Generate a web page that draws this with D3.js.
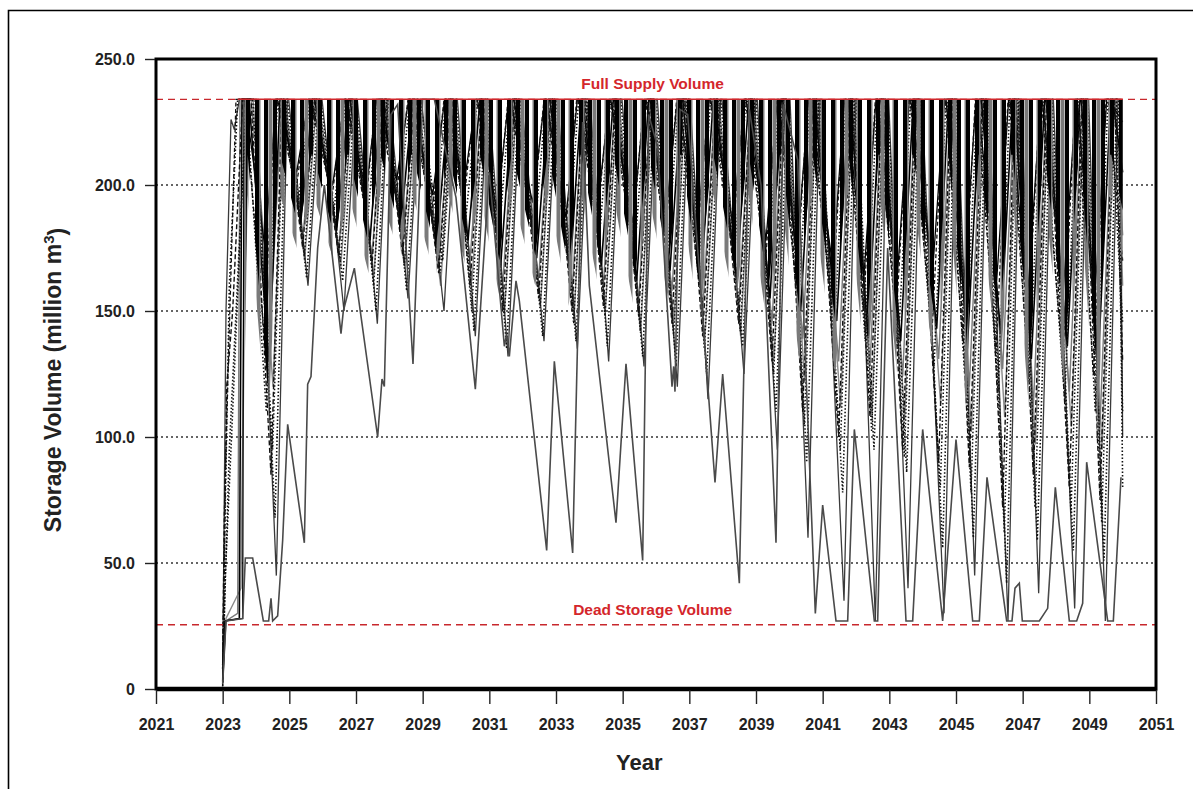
<!DOCTYPE html>
<html>
<head>
<meta charset="utf-8">
<script src="https://cdn.jsdelivr.net/npm/d3@7"></script>
<style>
  body { margin: 0; background: #fff; }
  text { font-family: "Liberation Sans", Arial, sans-serif; }
</style>
</head>
<body>
<div id="chart"></div>
<script>
// reference levels (million m3)
const FSV = 234;
const DSV = 25.5;

// axis ticks
const xTicks = [2021, 2023, 2025, 2027, 2029, 2031, 2033, 2035, 2037, 2039, 2041, 2043, 2045, 2047, 2049, 2051];
const yTicks = [0, 50, 100, 150, 200, 250];
const yTickLabels = ["0", "50.0", "100.0", "150.0", "200.0", "250.0"];
const gridValues = [50, 100, 150, 200];

// yearly drawdown cycles shared by the scenario traces (decimal years)
const cycleStart  = [2023.75, 2024.72, 2025.72, 2026.78, 2027.74, 2028.70, 2029.78, 2030.72, 2031.70, 2032.78, 2033.76, 2034.72, 2035.78, 2036.76, 2037.72, 2038.78, 2039.76, 2040.70, 2041.78, 2042.72, 2043.72, 2044.78, 2045.72, 2046.70, 2047.66, 2048.72];
const cycleTrough = [2024.35, 2025.30, 2026.38, 2027.38, 2028.30, 2029.38, 2030.32, 2031.30, 2032.38, 2033.38, 2034.32, 2035.38, 2036.38, 2037.30, 2038.38, 2039.38, 2040.30, 2041.38, 2042.32, 2043.30, 2044.38, 2045.30, 2046.30, 2047.22, 2048.30, 2049.22];
const cycleRefill = [2024.68, 2025.66, 2026.74, 2027.70, 2028.66, 2029.74, 2030.68, 2031.66, 2032.74, 2033.72, 2034.68, 2035.74, 2036.72, 2037.68, 2038.74, 2039.72, 2040.66, 2041.74, 2042.68, 2043.68, 2044.74, 2045.68, 2046.66, 2047.62, 2048.68, 2049.60];
const finalStart = 2049.66;
const dataEnd = 2050.0;

// dense bars of the wetter scenarios, hanging from full supply:
// lowest point of the black bars and of the grey bars in each year
const blackBarLow = [120, 182, 178, 176, 182, 174, 178, 170, 172, 166, 170, 164, 168, 160, 165, 158, 150, 146, 142, 138, 144, 136, 142, 132, 138, 128];
const greyBarLow  = [100, 172, 168, 165, 172, 163, 166, 156, 160, 152, 156, 148, 154, 144, 150, 140, 130, 124, 120, 116, 124, 112, 120, 106, 114, 100];
const barShoulder = [212, 196];
const barStart = 2023.55;
const barEnd = [190, 170];

// scenario traces: first filling, yearly minimum storage, shift of the cycle, last value
const b1Initial = [[2023.0, 3], [2023.08, 27], [2023.50, 28], [2023.58, 234]];
const b1Troughs = [130, 185, 182, 178, 183, 175, 178, 168, 171, 165, 168, 162, 166, 160, 163, 155, 150, 146, 140, 138, 143, 135, 141, 131, 136, 128];
const b1Lag = 0.04, b1End = 205;

const b2Initial = [[2023.0, 5], [2023.10, 27], [2023.45, 30], [2023.52, 234]];
const b2Troughs = [150, 178, 174, 171, 176, 168, 170, 160, 163, 157, 160, 154, 158, 150, 152, 145, 139, 130, 128, 124, 131, 120, 127, 112, 118, 105];
const b2Lag = 0.10, b2End = 180;

const b3Initial = [[2023.0, 10], [2023.06, 27], [2023.60, 28], [2023.64, 234]];
const b3Troughs = [175, 205, 200, 197, 202, 196, 200, 190, 193, 187, 190, 185, 188, 181, 185, 178, 172, 168, 164, 160, 166, 158, 162, 154, 158, 150];
const b3Lag = -0.08, b3End = 225;

const b4Initial = [[2023.0, 2], [2023.10, 28], [2023.55, 40], [2023.70, 234]];
const b4Troughs = [120, 170, 167, 164, 168, 160, 162, 150, 153, 147, 150, 142, 146, 137, 140, 130, 122, 112, 110, 107, 113, 102, 108, 97, 104, 95];
const b4Lag = 0.16, b4End = 160;

const d1Initial = [[2023.0, 0], [2023.05, 30], [2023.20, 95], [2023.55, 190], [2023.75, 234]];
const d1Troughs = [68, 163, 162, 150, 158, 170, 142, 135, 140, 138, 136, 132, 128, 125, 136, 110, 90, 78, 95, 86, 56, 60, 42, 59, 55, 51];
const d1Lag = 0.22, d1End = 80;

const d2Initial = [[2023.0, 4], [2023.04, 40], [2023.12, 120], [2023.30, 150], [2023.60, 234]];
const d2Troughs = [85, 175, 172, 168, 172, 165, 160, 150, 155, 150, 152, 148, 145, 140, 145, 130, 110, 100, 108, 95, 90, 88, 72, 85, 80, 75];
const d2Lag = 0.10, d2End = 130;

const d3Initial = [[2023.0, 8], [2023.06, 60], [2023.20, 160], [2023.45, 234]];
const d3Troughs = [110, 192, 190, 185, 190, 182, 185, 175, 178, 172, 176, 170, 172, 165, 170, 160, 150, 140, 138, 135, 128, 125, 118, 122, 115, 110];
const d3Lag = -0.04, d3End = 145;

const d4Initial = [[2023.0, 1], [2023.08, 45], [2023.30, 110], [2023.70, 234]];
const d4Troughs = [95, 172, 170, 160, 168, 165, 150, 148, 152, 145, 148, 142, 140, 135, 142, 125, 105, 95, 102, 92, 80, 78, 62, 72, 70, 66];
const d4Lag = 0.15, d4End = 110;

const d5Initial = [[2023.0, 12], [2023.05, 70], [2023.15, 120], [2023.40, 234]];
const d5Troughs = [140, 198, 195, 190, 195, 188, 192, 182, 185, 180, 183, 178, 180, 172, 176, 168, 160, 152, 150, 146, 142, 138, 134, 136, 130, 125];
const d5Lag = -0.10, d5End = 170;

const s2Initial = [[2023.0, 6], [2023.10, 150], [2023.25, 226], [2023.35, 222], [2023.50, 234]];
const s2Troughs = [45, 160, 150, 145, 155, 150, 140, 132, 138, 135, 130, 128, 120, 115, 125, 95, 60, 35, 27, 40, 30, 45, 27, 38, 32, 27];
const s2Lag = 0.26, s2End = 100;

// driest scenario, read point by point
const lowestTrace = [
  [2023.00, 2], [2023.10, 27], [2023.60, 28], [2023.68, 52], [2023.90, 52], [2024.22, 27], [2024.38, 27],
  [2024.45, 36], [2024.50, 27], [2024.65, 29], [2024.80, 59], [2024.95, 105], [2025.45, 58], [2025.55, 121],
  [2025.65, 124], [2025.85, 175], [2026.05, 200], [2026.55, 141], [2026.62, 150], [2026.95, 167], [2027.65, 100],
  [2027.78, 123], [2027.85, 120], [2028.05, 228], [2028.25, 232], [2028.71, 129], [2029.00, 234], [2029.35, 234],
  [2030.00, 195], [2030.58, 119], [2030.85, 175], [2031.00, 205], [2031.45, 136], [2031.52, 141], [2031.60, 132],
  [2031.80, 162], [2031.90, 154], [2032.72, 55], [2032.95, 130], [2033.50, 54], [2033.80, 225], [2034.00, 160],
  [2034.80, 66], [2035.10, 129], [2035.60, 51], [2035.78, 228], [2036.05, 215], [2036.48, 120], [2036.53, 128],
  [2036.57, 118], [2036.72, 230], [2036.95, 228], [2037.77, 82], [2038.00, 125], [2038.50, 42], [2038.80, 230],
  [2039.15, 200], [2039.60, 58], [2039.82, 232], [2040.25, 210], [2040.78, 30], [2041.00, 73], [2041.40, 27],
  [2041.75, 27], [2041.95, 103], [2042.55, 27], [2042.65, 27], [2042.95, 175], [2043.50, 27], [2043.70, 27],
  [2044.00, 103], [2044.60, 27], [2045.00, 99], [2045.50, 27], [2045.70, 27], [2045.93, 84], [2046.52, 27],
  [2046.68, 27], [2046.77, 40], [2046.90, 42], [2046.99, 27], [2047.50, 27], [2047.75, 32], [2047.98, 80],
  [2048.40, 27], [2048.62, 27], [2048.80, 34], [2048.92, 90], [2049.55, 27], [2049.72, 27], [2049.95, 84]
];

const scenarios = {
  b1: { initial: b1Initial, troughs: b1Troughs, lag: b1Lag, end: b1End },
  b2: { initial: b2Initial, troughs: b2Troughs, lag: b2Lag, end: b2End },
  b3: { initial: b3Initial, troughs: b3Troughs, lag: b3Lag, end: b3End },
  b4: { initial: b4Initial, troughs: b4Troughs, lag: b4Lag, end: b4End },
  d1: { initial: d1Initial, troughs: d1Troughs, lag: d1Lag, end: d1End },
  d2: { initial: d2Initial, troughs: d2Troughs, lag: d2Lag, end: d2End },
  d3: { initial: d3Initial, troughs: d3Troughs, lag: d3Lag, end: d3End },
  d4: { initial: d4Initial, troughs: d4Troughs, lag: d4Lag, end: d4End },
  d5: { initial: d5Initial, troughs: d5Troughs, lag: d5Lag, end: d5End },
  s2: { initial: s2Initial, troughs: s2Troughs, lag: s2Lag, end: s2End }
};

// drawing order and line styles
const traceStyles = [
  { key: "b4", color: "#8a8a8a", width: 1.4 },
  { key: "b2", color: "#7a7a7a", width: 1.4 },
  { key: "s2", color: "#3a3a3a", width: 1.3 },
  { key: "b3", color: "#000", width: 1.3 },
  { key: "b1", color: "#000", width: 1.6 },
  { key: "d1", color: "#111", width: 1.6, dash: "1.5,2" },
  { key: "d4", color: "#111", width: 1.5, dash: "1.5,2" },
  { key: "d2", color: "#111", width: 1.4, dash: "5,2.5" },
  { key: "d5", color: "#111", width: 1.3, dash: "4,2.5" },
  { key: "d3", color: "#111", width: 1.6, dash: "1.5,2" }
];

function tracePoints(s) {
  const pts = s.initial.slice();
  s.troughs.forEach((v, i) => {
    pts.push([cycleStart[i] + s.lag, FSV]);
    pts.push([cycleTrough[i] + s.lag, v]);
    pts.push([cycleRefill[i] + s.lag, FSV]);
  });
  pts.push([finalStart + s.lag, FSV]);
  pts.push([dataEnd, s.end]);
  return pts;
}

function barPoints(lows, shoulder, end) {
  const pts = [[barStart, 40], [2023.75, shoulder]];
  lows.forEach((v, i) => {
    if (i > 0) pts.push([cycleStart[i], shoulder]);
    pts.push([cycleTrough[i], v]);
    pts.push([cycleRefill[i], shoulder]);
  });
  pts.push([finalStart, shoulder]);
  pts.push([dataEnd, end]);
  return pts;
}

const W = 1193, H = 789;
const margin = { top: 59, right: 37, bottom: 100, left: 156 };
const width = W - margin.left - margin.right;
const height = H - margin.top - margin.bottom;

const svg = d3.select("#chart").append("svg")
  .attr("width", W)
  .attr("height", H)
  .style("display", "block");

svg.append("rect").attr("width", W).attr("height", H).attr("fill", "#fff");

// vertical bar textures (black and grey scenario lines packed together)
const defs = svg.append("defs");
const patBlack = defs.append("pattern")
  .attr("id", "bars-black")
  .attr("patternUnits", "userSpaceOnUse")
  .attr("width", 9).attr("height", 10);
patBlack.append("rect").attr("x", 0).attr("width", 4).attr("height", 10).attr("fill", "#000");
const patGrey = defs.append("pattern")
  .attr("id", "bars-grey")
  .attr("patternUnits", "userSpaceOnUse")
  .attr("width", 12).attr("height", 10);
patGrey.append("rect").attr("x", 4.5).attr("width", 4).attr("height", 10).attr("fill", "#7a7a7a");

// outer figure frame (top and left edges only are visible)
svg.append("path")
  .attr("d", `M8.5,${H + 5}V10.5H${W + 5}`)
  .attr("fill", "none")
  .attr("stroke", "#000")
  .attr("stroke-width", 1.6);

const g = svg.append("g").attr("transform", `translate(${margin.left},${margin.top})`);

const x = d3.scaleLinear().domain([2021, 2051]).range([0, width]);
const y = d3.scaleLinear().domain([0, 250]).range([height, 0]);

g.append("clipPath").attr("id", "plot-clip")
  .append("rect").attr("width", width).attr("height", height);

// dotted gridlines
g.selectAll(".grid").data(gridValues).join("line")
  .attr("class", "grid")
  .attr("x1", 0).attr("x2", width)
  .attr("y1", d => y(d)).attr("y2", d => y(d))
  .attr("stroke", "#333")
  .attr("stroke-width", 1.3)
  .attr("stroke-dasharray", "2,3");

const line = d3.line().x(d => x(d[0])).y(d => y(d[1]));
const barArea = d3.area().x(d => x(d[0])).y0(d => y(d[1])).y1(y(FSV));
const plot = g.append("g").attr("clip-path", "url(#plot-clip)");

traceStyles.forEach(st => {
  plot.append("path")
    .datum(tracePoints(scenarios[st.key]))
    .attr("d", line)
    .attr("fill", "none")
    .attr("stroke", st.color)
    .attr("stroke-width", st.width)
    .attr("stroke-dasharray", st.dash || null)
    .attr("stroke-linejoin", "miter");
});

plot.append("path")
  .datum(barPoints(greyBarLow, barShoulder[1], barEnd[1]))
  .attr("d", barArea)
  .attr("fill", "url(#bars-grey)");
plot.append("path")
  .datum(barPoints(blackBarLow, barShoulder[0], barEnd[0]))
  .attr("d", barArea)
  .attr("fill", "url(#bars-black)");

plot.append("path")
  .datum(lowestTrace)
  .attr("d", line)
  .attr("fill", "none")
  .attr("stroke", "#4a4a4a")
  .attr("stroke-width", 1.6);

// full supply and dead storage levels
[FSV, DSV].forEach(v => {
  g.append("line")
    .attr("x1", 0).attr("x2", width)
    .attr("y1", y(v)).attr("y2", y(v))
    .attr("stroke", "#c8282d")
    .attr("stroke-width", 1.3)
    .attr("stroke-dasharray", "7,5");
});
g.append("line")
  .attr("x1", x(2023.45))
  .attr("x2", x(dataEnd))
  .attr("y1", y(FSV)).attr("y2", y(FSV))
  .attr("stroke", "#d0282d")
  .attr("stroke-width", 1.6);

g.append("text")
  .attr("x", x(2035.9)).attr("y", y(FSV) - 10)
  .attr("text-anchor", "middle")
  .attr("fill", "#d4262b")
  .style("font-size", "15.5px").style("font-weight", "bold")
  .text("Full Supply Volume");

g.append("text")
  .attr("x", x(2035.9)).attr("y", y(DSV) - 10)
  .attr("text-anchor", "middle")
  .attr("fill", "#d4262b")
  .style("font-size", "15.5px").style("font-weight", "bold")
  .text("Dead Storage Volume");

// plot frame
g.append("rect")
  .attr("width", width).attr("height", height)
  .attr("fill", "none")
  .attr("stroke", "#000")
  .attr("stroke-width", 3);
g.append("line")
  .attr("x1", 0).attr("x2", width)
  .attr("y1", height).attr("y2", height)
  .attr("stroke", "#000").attr("stroke-width", 4.5);

// axes
const xAxis = g.append("g")
  .attr("transform", `translate(0,${height + 1})`)
  .call(d3.axisBottom(x).tickValues(xTicks).tickFormat(d3.format("d")).tickSize(14).tickPadding(15));
const yAxis = g.append("g")
  .attr("transform", "translate(-1,0)")
  .call(d3.axisLeft(y).tickValues(yTicks).tickFormat((d, i) => yTickLabels[i]).tickSize(10).tickPadding(10));

[xAxis, yAxis].forEach(a => {
  a.select(".domain").remove();
  a.selectAll(".tick line").attr("stroke", "#222").attr("stroke-width", 1.4);
  a.selectAll(".tick text")
    .attr("fill", "#222")
    .style("font-size", "16px")
    .style("font-weight", "bold")
    .style("font-family", "'Liberation Sans', Arial, sans-serif");
});

// axis titles
g.append("text")
  .attr("x", x(2035.5)).attr("y", height + 81)
  .attr("text-anchor", "middle")
  .style("font-size", "22px").style("font-weight", "bold")
  .attr("fill", "#222")
  .text("Year");

const yTitle = g.append("text")
  .attr("transform", `translate(${61 - margin.left},${height / 2 + 6}) rotate(-90)`)
  .attr("text-anchor", "middle")
  .style("font-size", "23px").style("font-weight", "bold")
  .attr("fill", "#222");
yTitle.append("tspan").text("Storage Volume (million m");
yTitle.append("tspan").attr("dy", "-0.5em").style("font-size", "15px").text("3");
yTitle.append("tspan").attr("dy", "0.5em").text(")");
</script>
</body>
</html>
